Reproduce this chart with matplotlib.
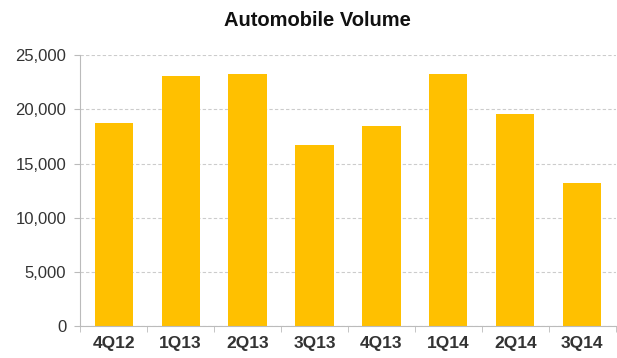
import matplotlib
matplotlib.use("Agg")
import matplotlib.pyplot as plt

categories = ["4Q12", "1Q13", "2Q13", "3Q13", "4Q13", "1Q14", "2Q14", "3Q14"]
volume = [18770, 23060, 23270, 16730, 18450, 23240, 19600, 13180]
yticks = [0, 5000, 10000, 15000, 20000, 25000]

plt.rcParams['font.family'] = ['Liberation Sans', 'DejaVu Sans']
fig = plt.figure(figsize=(6.17, 3.58), dpi=100)
ax = fig.add_axes([0.13, 0.089, 0.868, 0.757])

x = range(len(categories))
ax.bar(x, volume, width=0.57, color="#FFC000", zorder=2)
ax.set_xlim(-0.5, len(categories) - 0.5)
ax.set_ylim(0, 25000)
ax.set_yticks(yticks)
ax.set_yticklabels([f"{v:,}" for v in yticks], fontsize=12, color="#333333")
ax.set_xticks(list(x))
ax.set_xticklabels(categories, fontsize=12.5, fontweight="bold", color="#333333")
ax.set_xticks([i + 0.5 for i in range(-1, len(categories))], minor=True)
ax.tick_params(axis="x", which="major", length=0, pad=7)
ax.tick_params(axis="x", which="minor", length=4, color="#BBBBBB")
ax.tick_params(axis="y", length=4, color="#BBBBBB", pad=6)
ax.yaxis.grid(True, linestyle=(0, (3, 2)), color="#CCCCCC", linewidth=0.8, zorder=0)
ax.set_axisbelow(True)
for s in ["top", "right"]:
    ax.spines[s].set_visible(False)
for s in ["left", "bottom"]:
    ax.spines[s].set_color("#BBBBBB")
fig.text(0.515, 0.943, "Automobile Volume", ha="center", va="center",
         fontsize=14.5, fontweight="bold", color="#111111")
fig.savefig("out.png", dpi=100)
